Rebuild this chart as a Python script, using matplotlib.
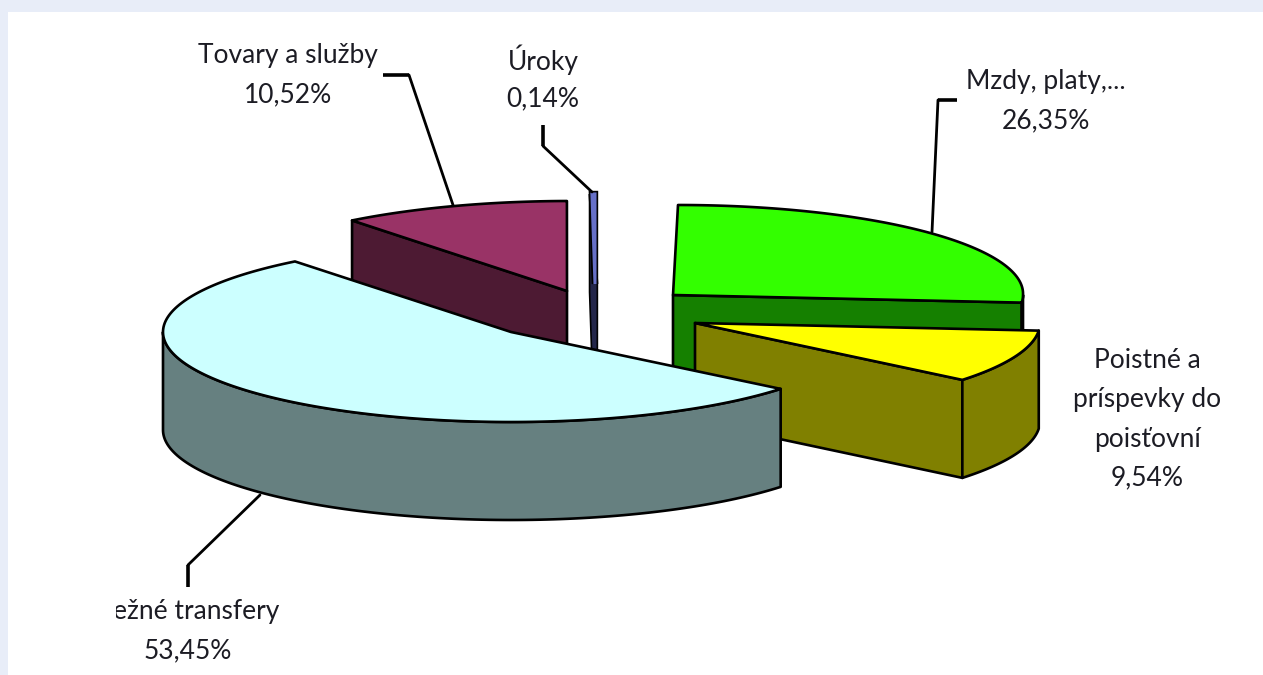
import numpy as np
import matplotlib
matplotlib.use("Agg")
import matplotlib.pyplot as plt
import matplotlib.patheffects as pe
from matplotlib.patches import Polygon, Rectangle

plt.rcParams['font.family'] = ['Lato', 'DejaVu Sans']

# data, clockwise from 12 o'clock
names = ["Mzdy, platy,...", "Poistné a\npríspevky do\npoisťovní", "Bežné transfery", "Tovary a služby", "Úroky"]
values = [26.35, 9.54, 53.45, 10.52, 0.14]

top_colors = ["#33ff00", "#ffff00", "#ccffff", "#993366", "#6670c8"]
side_colors = ["#158000", "#808000", "#668080", "#4d1a33", "#23264a"]

# apex of each exploded slice, in pixels, with its own radius and top lean
apex = [(673, 295), (695, 323), (511, 332), (567, 291), (595, 284)]
radii = [350, 345, 348, 350, 350]
lean = [5, 0, 0, 3, 0]
ry, depth = 90, 98
draw_order = [3, 4, 0, 1, 2]

# label block: centre x, first line y
label_pos = [(1046, 82), (1147, 361), (188, 612), (288, 56), (543, 60)]
line_step = 39

# leaders: stub then slanted run
leaders = [
    [(957, 100), (938, 100), (932, 232)],
    [(188, 587), (188, 565), (260, 495)],
    [(383, 75), (409, 75), (453, 205)],
    [(543, 125), (543, 146), (592, 192)],
]

W, H = 1263, 675
fig = plt.figure(figsize=(W / 100, H / 100), dpi=100, facecolor="#e8edf8")
ax = fig.add_axes([0, 0, 1, 1])
ax.set_xlim(0, W)
ax.set_ylim(H, 0)
ax.axis("off")
ax.add_patch(Rectangle((8, 12), W - 8, H - 12, fc="white", ec="none", zorder=0))


def rim(i, a):
    dy = np.cos(a)
    x = apex[i][0] + radii[i] * np.sin(a) + lean[i] * np.clip(dy, 0, 1)
    return np.column_stack((x, apex[i][1] - ry * dy))


def face(pts, color, z, thin=False):
    if thin:
        # the sliver is narrower than its outline, so keep colour inside a halo
        p = Polygon(pts, closed=True, fc=color, ec=color, lw=2.2, zorder=z)
        p.set_path_effects([pe.Stroke(linewidth=4.6, foreground="black"), pe.Normal()])
    else:
        p = Polygon(pts, closed=True, fc=color, ec="black", lw=1.9,
                    joinstyle="round", zorder=z)
    ax.add_patch(p)


edges = np.concatenate(([0], np.cumsum(values))) / sum(values) * 2 * np.pi
for rank, i in enumerate(draw_order):
    a0, a1 = edges[i], edges[i + 1]
    c = np.array(apex[i], dtype=float)
    z = 1 + rank
    thin = values[i] < 1
    down = np.array([0, depth])
    # cut faces that look toward the viewer
    for a, seen in ((a0, np.sin(a0) < 0), (a1, np.sin(a1) > 0)):
        if seen:
            r = rim(i, np.array([a]))[0]
            face([c, r, r + down, c + down], side_colors[i], z, thin)
    # outer wall, front half only
    lo, hi = max(a0, np.pi / 2), min(a1, 3 * np.pi / 2)
    if lo < hi:
        arc = rim(i, np.linspace(lo, hi, 120))
        face(np.vstack((arc, arc[::-1] + down)), side_colors[i], z)
    # top
    arc = rim(i, np.linspace(a0, a1, 160))
    face(np.vstack(([c], arc)), top_colors[i], z, thin)

for pts in leaders:
    ax.plot(*zip(*pts[:2]), color="black", lw=2.6, solid_capstyle="butt", zorder=20)
    ax.plot(*zip(*pts[1:]), color="black", lw=2.0, solid_capstyle="round", zorder=20)

clip = Rectangle((116, 0), W, H, transform=ax.transData)
for name, val, (x, y) in zip(names, values, label_pos):
    lines = name.split("\n") + [f"{val:.2f}%".replace(".", ",")]
    for k, line in enumerate(lines):
        t = ax.text(x, y + k * line_step, line, ha="center", va="center",
                    fontsize=19, color="#1c1c24", zorder=30)
        t.set_clip_path(clip)
        t.set_clip_on(True)

fig.savefig("out.png", dpi=100)
